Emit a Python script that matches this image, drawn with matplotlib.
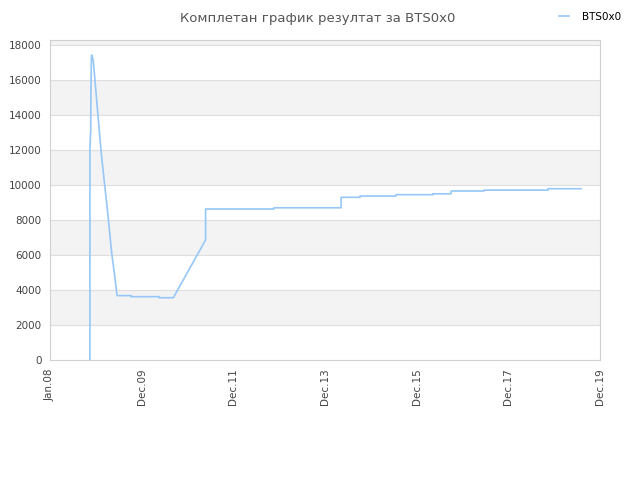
import numpy as np
import matplotlib.pyplot as plt
import matplotlib.dates as mdates
import pandas as pd

# Datos
fechas = ['2008-11-14', '2008-11-14', '2008-11-18', '2008-11-20', '2008-11-22',
          '2008-11-26', '2008-11-30', '2008-12-10', '2008-12-24', '2009-01-19',
          '2009-02-15', '2009-03-13', '2009-04-08', '2009-05-05', '2009-05-31',
          '2009-06-18', '2009-10-07', '2009-10-07', '2010-05-18', '2010-05-18',
          '2010-09-09', '2011-05-24', '2011-05-24', '2012-11-19', '2012-11-19',
          '2014-05-07', '2014-05-07', '2014-10-05', '2014-10-05', '2015-07-18',
          '2015-07-18', '2016-05-08', '2016-05-08', '2016-09-29', '2016-09-29',
          '2017-06-18', '2017-06-18', '2018-11-10', '2018-11-10', '2019-07-31']
valores = [0, 12000, 12860, 12970, 15240,
           17430, 17400, 17140, 16000, 13810,
           11620, 9900, 8190, 6190, 4760,
           3680, 3680, 3620, 3620, 3560,
           3560, 6860, 8630, 8630, 8700,
           8700, 9300, 9300, 9370, 9370,
           9450, 9450, 9500, 9500, 9660,
           9660, 9710, 9710, 9790, 9790]

tick_fechas = pd.date_range('2008-01-01', periods=7, freq='730D')
tick_labels = ['Jan.08', 'Dec.09', 'Dec.11', 'Dec.13', 'Dec.15', 'Dec.17', 'Dec.19']
y_ticks = np.arange(0, 18001, 2000)

x = pd.to_datetime(fechas)

fig = plt.figure(figsize=(6.4, 4.8), dpi=100)
ax = fig.add_axes([50/640, 120/480, 550/640, 320/480])

ymax = 18290
# bandas alternas
for i, y0 in enumerate(range(0, 20000, 2000)):
    if i % 2 == 1:
        ax.axhspan(y0, min(y0 + 2000, ymax), color='#f3f3f3', zorder=0, lw=0)
for y in y_ticks[1:]:
    ax.axhline(y, color='#dedede', lw=0.8, zorder=1)

ax.plot(x, valores, color='#96c7f6', lw=1.2, label='BTS0x0', zorder=3)

ax.set_xlim(tick_fechas[0], tick_fechas[-1])
ax.set_ylim(0, ymax)
ax.set_xticks(tick_fechas)
ax.set_xticklabels(tick_labels, rotation=90, fontsize=7.5, color='#444444')
ax.set_yticks(y_ticks)
ax.set_yticklabels([str(v) for v in y_ticks], fontsize=7.5, color='#444444')
ax.tick_params(length=0, pad=6)
for s in ax.spines.values():
    s.set_color('#d0d0d0')

fig.text(0.497, 0.975, 'Комплетан график резултат за BTS0x0', ha='center', va='top',
         fontsize=9.5, color='#555555')
fig.legend(loc='upper right', bbox_to_anchor=(0.985, 0.995), frameon=False,
           fontsize=7.5, handlelength=1.0, handletextpad=1.2)

fig.savefig('out.png', dpi=100)
